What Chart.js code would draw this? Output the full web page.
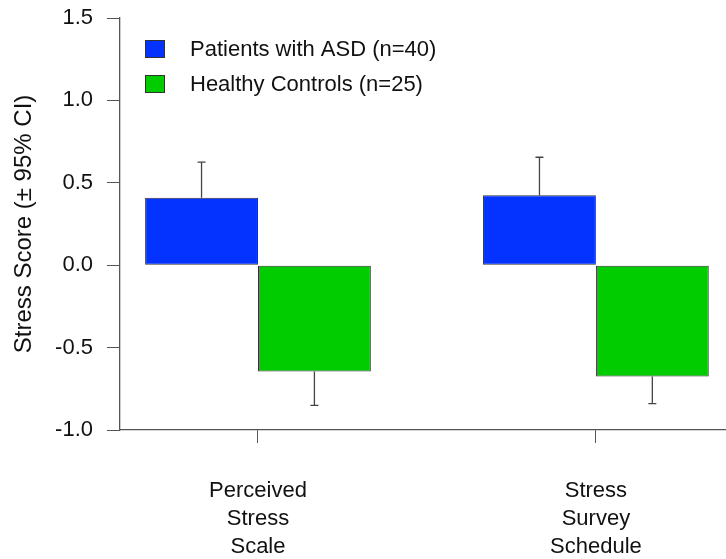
<!DOCTYPE html>
<html>
<head>
<meta charset="utf-8">
<script src="https://cdn.jsdelivr.net/npm/chart.js@4/dist/chart.umd.min.js"></script>
<style>
  html, body { margin: 0; padding: 0; background: #fff; }
  #wrap { width: 726px; height: 559px; position: relative; }
</style>
</head>
<body>
<div id="wrap"><canvas id="chart"></canvas></div>
<script>
// category positions on the x axis and their (multi-line) names
const categoryPos = [1, 2];
const categoryLines = [['Perceived', 'Stress', 'Scale'], ['Stress', 'Survey', 'Schedule']];

const seriesNames = ['Patients with ASD (n=40)', 'Healthy Controls (n=25)'];
const asdMeans = [0.41, 0.425];
const hcMeans = [-0.645, -0.675];
// one-sided 95% CI ends
const asdCI = [0.625, 0.655];
const hcCI = [-0.85, -0.84];

const yTicks = [-1.0, -0.5, 0.0, 0.5, 1.0, 1.5];

const FONT = 'Liberation Sans, Arial, sans-serif';
const AXIS = '#555';

const errorBars = {
  id: 'errorBars',
  afterDatasetsDraw (chart) {
    const {ctx, scales: {y}} = chart;
    const ends = [asdCI, hcCI];
    ctx.save();
    ctx.strokeStyle = '#444';
    ctx.lineWidth = 1.3;
    chart.data.datasets.forEach((ds, i) => {
      const meta = chart.getDatasetMeta(i);
      meta.data.forEach((bar, j) => {
        const yEnd = y.getPixelForValue(ends[i][j]);
        ctx.beginPath();
        ctx.moveTo(bar.x, bar.y);
        ctx.lineTo(bar.x, yEnd);
        ctx.moveTo(bar.x - 4, yEnd);
        ctx.lineTo(bar.x + 4, yEnd);
        ctx.stroke();
      });
    });
    ctx.restore();
  }
};

const insideLegend = {
  id: 'insideLegend',
  afterDraw (chart) {
    const {ctx, chartArea} = chart;
    ctx.save();
    ctx.font = '22px ' + FONT;
    ctx.textBaseline = 'middle';
    chart.data.datasets.forEach((ds, i) => {
      const cy = chartArea.top + 31 + i * 35;
      const bx = chartArea.left + 25;
      ctx.fillStyle = ds.backgroundColor;
      ctx.fillRect(bx, cy - 9, 20, 18);
      ctx.strokeStyle = '#333';
      ctx.lineWidth = 1;
      ctx.strokeRect(bx + 0.5, cy - 8.5, 19, 17);
      ctx.fillStyle = '#111';
      ctx.fillText(ds.label, bx + 45, cy + 1);
    });
    ctx.restore();
  }
};

new Chart(document.getElementById('chart'), {
  type: 'bar',
  data: {
    datasets: [
      {
        label: seriesNames[0],
        data: categoryPos.map((x, i) => ({x, y: asdMeans[i]})),
        backgroundColor: '#0433ff',
        borderColor: '#333',
        borderWidth: 1,
        borderSkipped: false
      },
      {
        label: seriesNames[1],
        data: categoryPos.map((x, i) => ({x, y: hcMeans[i]})),
        backgroundColor: '#00cc00',
        borderColor: '#333',
        borderWidth: 1,
        borderSkipped: false
      }
    ]
  },
  options: {
    responsive: true,
    maintainAspectRatio: false,
    animation: false,
    layout: {padding: {top: 18, right: 0, left: 0, bottom: 0}},
    categoryPercentage: 0.668,
    barPercentage: 1,
    plugins: {
      legend: {display: false},
      tooltip: {enabled: false}
    },
    scales: {
      x: {
        type: 'linear',
        offset: false,
        min: 0.5917,
        max: 2.385,
        afterBuildTicks: (scale) => { scale.ticks = categoryPos.map(v => ({value: v})); },
        afterFit: (scale) => { scale.height = 129; },
        grid: {offset: false, drawOnChartArea: false, drawTicks: true, tickLength: 13, color: AXIS},
        border: {display: true, color: AXIS, width: 1.3},
        ticks: {
          padding: 34,
          color: '#111',
          font: {family: FONT, size: 22, lineHeight: 1.27},
          maxRotation: 0,
          autoSkip: false,
          callback: (v) => categoryLines[categoryPos.indexOf(v)] || ''
        }
      },
      y: {
        min: -1,
        max: 1.5,
        afterBuildTicks: (scale) => { scale.ticks = yTicks.map(v => ({value: v})); },
        afterFit: (scale) => {
          scale.width = 120;
          scale.paddingTop = 0;
          scale.paddingBottom = 0;
        },
        grid: {drawOnChartArea: false, drawTicks: true, tickLength: 13, color: AXIS},
        border: {display: true, color: AXIS, width: 1.3},
        ticks: {
          padding: 14,
          color: '#111',
          font: {family: FONT, size: 22},
          callback: (v) => v.toFixed(1)
        },
        title: {
          display: true,
          text: 'Stress Score (± 95% CI)',
          color: '#111',
          font: {family: FONT, size: 24},
          padding: {top: 10, bottom: 0}
        }
      }
    }
  },
  plugins: [errorBars, insideLegend]
});
</script>
</body>
</html>
